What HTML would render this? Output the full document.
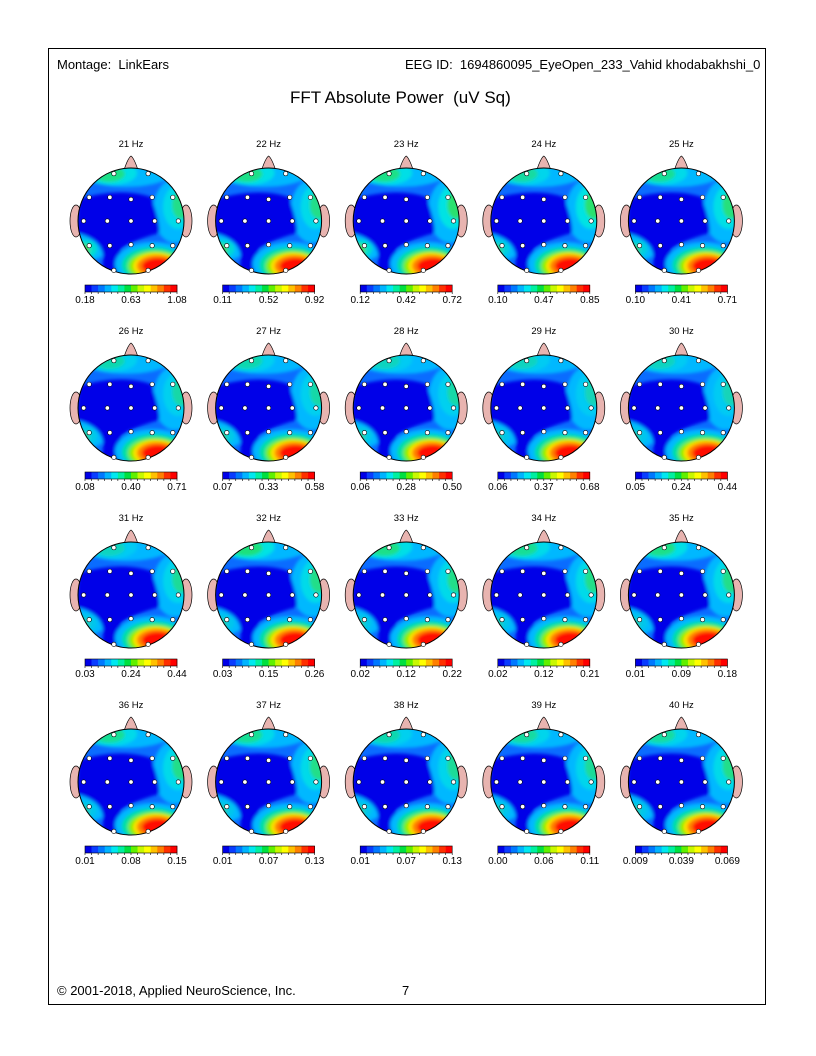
<!DOCTYPE html>
<html><head><meta charset="utf-8">
<style>
html,body{margin:0;padding:0;background:#fff;}
body{width:816px;height:1056px;position:relative;overflow:hidden;font-family:"Liberation Sans",sans-serif;}
#frame{position:absolute;left:48px;top:48px;width:718px;height:957px;border:1px solid #000;box-sizing:border-box;}
.t{position:absolute;white-space:nowrap;color:#000;}
</style></head><body>
<div id="frame"></div>
<div class="t" style="left:57px;top:57px;font-size:13px">Montage:&nbsp; LinkEars</div>
<div class="t" style="left:405px;top:57px;font-size:13px">EEG ID:&nbsp; 1694860095_EyeOpen_233_Vahid khodabakhshi_0</div>
<div class="t" style="left:290px;top:88px;font-size:17px">FFT Absolute Power&nbsp; (uV Sq)</div>
<div class="t" style="left:57px;top:983px;font-size:13px">© 2001-2018, Applied NeuroScience, Inc.</div>
<div class="t" style="left:402px;top:983px;font-size:13px">7</div>
<svg id="maps" width="816" height="1056" style="position:absolute;left:0;top:0"></svg>
<script>
const freqs=[21,22,23,24,25,26,27,28,29,30,31,32,33,34,35,36,37,38,39,40];
const minLabels=["0.18","0.11","0.12","0.10","0.10","0.08","0.07","0.06","0.06","0.05","0.03","0.03","0.02","0.02","0.01","0.01","0.01","0.01","0.00","0.009"];
const midLabels=["0.63","0.52","0.42","0.47","0.41","0.40","0.33","0.28","0.37","0.24","0.24","0.15","0.12","0.12","0.09","0.08","0.07","0.07","0.06","0.039"];
const maxLabels=["1.08","0.92","0.72","0.85","0.71","0.71","0.58","0.50","0.68","0.44","0.44","0.26","0.22","0.21","0.18","0.15","0.13","0.13","0.11","0.069"];
const frontLevel=[0.8,0.8,0.8,0.6,0.7,0.5,0.5,0.4,0.4,0.4,0.4,0.9,0.8,0.7,0.8,0.7,0.7,0.5,0.6,0.6];
const rightLevel=[0.7,0.7,0.9,0.9,0.8,0.5,0.5,0.5,0.4,0.4,0.6,0.7,0.7,0.7,0.7,0.7,0.7,0.6,0.6,0.7];
const leftLevel=[0.8,0.7,0.8,0.5,0.5,0.4,0.4,0.4,0.3,0.3,0.3,0.3,0.3,0.3,0.3,0.3,0.3,0.3,0.3,0.3];
const hotLevel=[1,1,1,1,1,1,1,1,1,1,1,1,1,1,1,1,1,1,1,1];
const electrodes=[[-0.34,-0.94],[0.34,-0.94],[-0.83,-0.47],[-0.42,-0.47],[0,-0.43],[0.42,-0.47],[0.83,-0.47],[-0.94,0],[-0.47,0],[0,0],[0.47,0],[0.94,0],[-0.83,0.49],[-0.42,0.49],[0,0.47],[0.42,0.49],[0.83,0.49],[-0.34,0.98],[0.34,0.98]];
const cbColors=["#0000e8","#0a3cff","#0078ff","#00b4ff","#00e8f0","#00f0a0","#00e040","#60f000","#c8f800","#ffff00","#ffc000","#ff8000","#ff3000","#ff0000"];
const NS="http://www.w3.org/2000/svg";
const svg=document.getElementById('maps');
function mk(tag,attrs,parent){const e=document.createElementNS(NS,tag);for(const k in attrs)e.setAttribute(k,attrs[k]);(parent||svg).appendChild(e);return e;}
const defs=mk('defs',{});
const f=mk('filter',{id:'blur',x:'-50%',y:'-50%',width:'200%',height:'200%'},defs);
mk('feGaussianBlur',{stdDeviation:'1.5'},f);
const colX=i=>131+i*137.6;
const rowY=j=>221+j*187;
const R=53;
freqs.forEach((fq,i)=>{
  const cx=colX(i%5), cy=rowY(Math.floor(i/5));
  const g=mk('g',{});
  
  
  const title=mk('text',{x:cx,y:cy-74,'text-anchor':'middle','font-size':'9.5','font-family':'Liberation Sans, sans-serif'},g);
  title.textContent=fq+' Hz';
  
  
  mk('path',{d:`M${cx-7} ${cy-R+2} Q${cx-3} ${cy-R-10} ${cx} ${cy-R-12} Q${cx+3} ${cy-R-10} ${cx+7} ${cy-R+2} Z`,fill:'#e8b4b0',stroke:'#000','stroke-width':'0.7'},g);
  mk('ellipse',{cx:cx-R-2,cy:cy,rx:6,ry:16,fill:'#e8b4b0',stroke:'#000','stroke-width':'0.7'},g);
  mk('ellipse',{cx:cx+R+2,cy:cy,rx:6,ry:16,fill:'#e8b4b0',stroke:'#000','stroke-width':'0.7'},g);
  const cp=mk('clipPath',{id:'c'+i},defs);
  mk('circle',{cx:cx,cy:cy,r:R},cp);
  const m=mk('g',{'clip-path':`url(#c${i})`},g);
  mk('circle',{cx:cx,cy:cy,r:R,fill:'#0a6cff'},m);
  const b=mk('g',{filter:'url(#blur)'},m);
  const fl=frontLevel[i], rl=rightLevel[i], ll=leftLevel[i], hl=hotLevel[i];
  mk('ellipse',{cx:cx-5,cy:cy-52,rx:50,ry:18,fill:'#00b8ff'},b);
  mk('ellipse',{cx:cx-20,cy:cy-48,rx:26,ry:12,fill:'#00e8e0',opacity:fl},b);
  mk('ellipse',{cx:cx-22,cy:cy-47,rx:16,ry:8,fill:'#20e070',opacity:fl},b);
  mk('ellipse',{cx:cx+44,cy:cy-10,rx:22,ry:32,fill:'#00b8ff'},b);
  mk('ellipse',{cx:cx+47,cy:cy-14,rx:15,ry:22,fill:'#00e8e0',opacity:rl},b);
  mk('ellipse',{cx:cx+50,cy:cy-16,rx:9,ry:14,fill:'#30e060',opacity:rl},b);
  mk('ellipse',{cx:cx-44,cy:cy+26,rx:20,ry:14,fill:'#00b8ff'},b);
  mk('ellipse',{cx:cx-46,cy:cy+28,rx:12,ry:9,fill:'#00e8c0',opacity:ll},b);
  mk('ellipse',{cx:cx-48,cy:cy+29,rx:7,ry:6,fill:'#60e040',opacity:ll},b);
  mk('path',{d:`M${cx-52} ${cy-22} Q${cx-10} ${cy-34} ${cx+20} ${cy-24} Q${cx+30} ${cy+4} ${cx+28} ${cy+12} Q${cx} ${cy+20} ${cx-10} ${cy+28} L${cx-10} ${cy+50} L${cx-30} ${cy+50} Q${cx-20} ${cy+20} ${cx-55} ${cy+12} Z`,fill:'#0000e8'},b);
  mk('ellipse',{cx:cx+22,cy:cy+43,rx:38,ry:22,fill:'#00b8ff'},b);
  mk('ellipse',{cx:cx+23,cy:cy+44,rx:32,ry:18,fill:'#00e0a0'},b);
  mk('ellipse',{cx:cx+24,cy:cy+45,rx:27,ry:15,fill:'#80f000',opacity:hl},b);
  mk('ellipse',{cx:cx+25,cy:cy+45,rx:23,ry:13,fill:'#ffe000',opacity:hl},b);
  mk('ellipse',{cx:cx+26,cy:cy+45,rx:20,ry:11,fill:'#ff8000',opacity:hl},b);
  mk('ellipse',{cx:cx+27,cy:cy+45,rx:16,ry:8,fill:'#ff1000',opacity:hl},b);
  mk('circle',{cx:cx,cy:cy,r:R,fill:'none',stroke:'#000','stroke-width':'1'},g);
  electrodes.forEach(p=>{
    const d=mk('circle',{cx:cx+p[0]*R*0.95,cy:cy+p[1]*R*0.95,r:2.2,fill:'#fff',stroke:'#000','stroke-width':'0.6'},g);
    
    
  });
  const cb=mk('g',{},g);
  
  
  const x0=cx-46, w=92, y0=cy+64, sw=w/cbColors.length;
  cbColors.forEach((c,k)=>mk('rect',{x:x0+k*sw,y:y0,width:sw+0.3,height:7,fill:c},cb));
  mk('rect',{x:x0,y:y0,width:w,height:7,fill:'none',stroke:'#000','stroke-width':'0.6'},cb);
  for(let k=0;k<=cbColors.length;k++)mk('line',{x1:x0+k*sw,y1:y0+7,x2:x0+k*sw,y2:y0+9,stroke:'#000','stroke-width':'0.6'},cb);
  [[minLabels[i],x0],[midLabels[i],x0+w/2],[maxLabels[i],x0+w]].forEach(([t,x])=>{
    const tx=mk('text',{x:x,y:y0+18,'text-anchor':'middle','font-size':'10','font-family':'Liberation Sans, sans-serif'},cb);
    tx.textContent=t;
    
    
  });
});
</script>
</body></html>
